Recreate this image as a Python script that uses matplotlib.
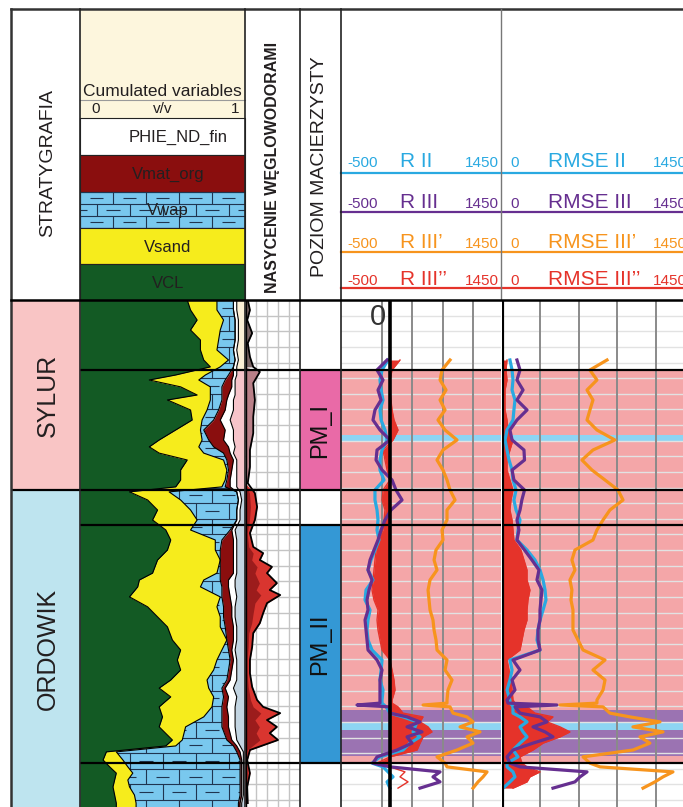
import numpy as np
import matplotlib
matplotlib.use("Agg")
import matplotlib.pyplot as plt
from matplotlib.patches import Rectangle, Polygon
from matplotlib.collections import LineCollection

plt.rcParams['font.family'] = ['Liberation Sans', 'DejaVu Sans']

# ---------------------------------------------------------------- data
ZONE_NAMES = ["SYLUR", "ORDOWIK"]
ZONE_TOP = [2950.0, 3010.8]
ZONE_BASE = [3010.8, 3112.3]

SOURCE_NAMES = ["PM_I", "PM_II"]
SOURCE_TOP = [2972.4, 3022.0]
SOURCE_BASE = [3010.8, 3098.2]

MARKERS = [2972.4, 3010.8, 3022.0, 3098.2]

BAND_TOP = [2993.3, 3081.2, 3085.0, 3087.6]
BAND_BASE = [2995.4, 3085.0, 3087.6, 3096.0]
BAND_TYPE = ["water", "hc", "water", "hc"]

LITH_LABELS = ["PHIE_ND_fin", "Vmat_org", "Vwap", "Vsand", "VCL"]

LITH_DEPTH = [2950.0, 2953.2, 2956.4, 2959.6, 2962.8, 2966.0, 2969.2, 2971.4, 2974.0, 2975.6,
              2977.8, 2980.4, 2982.0, 2985.2, 2988.4, 2991.6, 2994.8, 2997.0, 2999.0, 3001.2,
              3004.4, 3007.6, 3009.8, 3011.4, 3014.0, 3017.2, 3020.4, 3023.6, 3026.8, 3030.0,
              3033.2, 3037.4, 3039.6, 3041.8, 3045.0, 3048.2, 3051.4, 3054.6, 3058.8, 3062.0,
              3065.2, 3068.4, 3071.6, 3074.2, 3077.0, 3080.2, 3083.4, 3086.6, 3090.8, 3092.7,
              3094.6, 3097.2, 3099.4, 3101.4, 3103.6, 3105.8, 3108.4, 3111.0, 3112.3]
VCL = [0.65, 0.67, 0.71, 0.67, 0.73, 0.73, 0.75, 0.79, 0.58, 0.42,
       0.61, 0.71, 0.53, 0.67, 0.68, 0.58, 0.48, 0.42, 0.48, 0.65,
       0.61, 0.61, 0.58, 0.30, 0.41, 0.47, 0.44, 0.52, 0.55, 0.53,
       0.47, 0.44, 0.36, 0.35, 0.30, 0.41, 0.47, 0.53, 0.56, 0.61,
       0.59, 0.61, 0.55, 0.48, 0.55, 0.48, 0.50, 0.48, 0.56, 0.52,
       0.16, 0.14, 0.18, 0.22, 0.21, 0.20, 0.21, 0.22, 0.22]
VSAND = [0.18, 0.16, 0.16, 0.18, 0.11, 0.10, 0.15, 0.06, 0.18, 0.30,
         0.18, 0.08, 0.26, 0.10, 0.06, 0.15, 0.26, 0.30, 0.27, 0.22,
         0.28, 0.27, 0.28, 0.24, 0.20, 0.20, 0.27, 0.15, 0.27, 0.29,
         0.38, 0.39, 0.39, 0.38, 0.55, 0.42, 0.38, 0.32, 0.33, 0.25,
         0.24, 0.20, 0.22, 0.30, 0.26, 0.32, 0.25, 0.16, 0.06, 0.06,
         0.06, 0.12, 0.11, 0.10, 0.08, 0.10, 0.12, 0.12, 0.12]
VWAP = [0.10, 0.10, 0.07, 0.09, 0.10, 0.10, 0.04, 0.08, 0.14, 0.16,
        0.07, 0.07, 0.07, 0.07, 0.07, 0.02, 0.04, 0.09, 0.12, 0.02,
        0.01, 0.01, 0.02, 0.41, 0.35, 0.28, 0.24, 0.24, 0.04, 0.03,
        0.00, 0.02, 0.10, 0.13, 0.01, 0.04, 0.02, 0.03, 0.00, 0.04,
        0.08, 0.09, 0.12, 0.08, 0.06, 0.06, 0.11, 0.22, 0.27, 0.35,
        0.73, 0.71, 0.68, 0.65, 0.68, 0.67, 0.64, 0.62, 0.62]
VMAT_ORG = [0.00, 0.00, 0.00, 0.00, 0.00, 0.00, 0.00, 0.00, 0.03, 0.04,
            0.06, 0.04, 0.03, 0.04, 0.04, 0.13, 0.09, 0.09, 0.04, 0.04,
            0.02, 0.02, 0.03, 0.00, 0.00, 0.00, 0.00, 0.01, 0.07, 0.08,
            0.08, 0.08, 0.05, 0.04, 0.05, 0.05, 0.05, 0.05, 0.04, 0.02,
            0.02, 0.02, 0.02, 0.02, 0.03, 0.03, 0.04, 0.04, 0.03, 0.02,
            0.02, 0.01, 0.01, 0.01, 0.01, 0.01, 0.01, 0.01, 0.01]
PHIE = [0.02, 0.02, 0.02, 0.02, 0.02, 0.02, 0.02, 0.02, 0.02, 0.02,
        0.02, 0.04, 0.04, 0.05, 0.06, 0.05, 0.06, 0.04, 0.02, 0.02,
        0.03, 0.04, 0.04, 0.02, 0.02, 0.02, 0.02, 0.02, 0.02, 0.02,
        0.02, 0.02, 0.04, 0.04, 0.04, 0.02, 0.02, 0.02, 0.02, 0.02,
        0.02, 0.03, 0.04, 0.05, 0.05, 0.05, 0.04, 0.04, 0.03, 0.02,
        0.02, 0.01, 0.01, 0.01, 0.01, 0.01, 0.01, 0.01, 0.01]

SAT_DEPTH = [2950.0, 2953.2, 2956.4, 2960.6, 2963.8, 2968.2, 2971.4, 2973.0, 2976.6, 2982.0,
             2987.4, 2992.6, 2998.0, 3003.4, 3008.6, 3011.8, 3016.2, 3020.4, 3024.6, 3029.0,
             3031.0, 3033.2, 3035.4, 3037.4, 3040.6, 3042.8, 3044.4, 3047.0, 3050.2, 3053.4,
             3056.6, 3061.0, 3065.2, 3069.4, 3073.8, 3078.0, 3080.2, 3082.2, 3084.4, 3086.6,
             3088.6, 3090.8, 3094.0, 3097.2, 3101.4, 3105.8, 3111.0]
SAT = [0.05, 0.09, 0.04, 0.13, 0.05, 0.09, 0.15, 0.27, 0.15, 0.18,
       0.15, 0.15, 0.09, 0.09, 0.05, 0.18, 0.22, 0.18, 0.09, 0.15,
       0.33, 0.27, 0.49, 0.40, 0.58, 0.45, 0.64, 0.40, 0.33, 0.27,
       0.15, 0.13, 0.09, 0.09, 0.13, 0.22, 0.33, 0.64, 0.40, 0.58,
       0.45, 0.60, 0.09, 0.04, 0.09, 0.04, 0.05]

LOG_DEPTH = [2969.2, 2972.4, 2975.6, 2978.8, 2982.0, 2985.2, 2988.4, 2991.6, 2994.8, 2998.0,
             3001.2, 3004.4, 3007.6, 3010.8, 3014.0, 3017.2, 3020.4, 3023.6, 3026.8, 3030.0,
             3033.2, 3036.4, 3039.6, 3042.8, 3046.0, 3049.2, 3052.4, 3055.6, 3058.8, 3062.0,
             3065.2, 3068.4, 3071.6, 3074.8,
             3078.0, 3079.0, 3079.6, 3080.2, 3082.2, 3083.4, 3085.0, 3086.6, 3088.2, 3089.8,
             3091.8, 3094.0, 3096.2, 3098.2, 3099.4, 3101.0, 3102.6, 3104.2, 3106.2]
R_II = [73, 0, -25, -12, 12, -25, -12, 36, 61, 0,
        -25, -25, 24, -86, -86, -61, -49, -61, -37, -86,
        -134, -171, -110, -195, -207, -146, -171, -183, -171, -122,
        0, -12, -25, 12,
        0, 0, 24, 49, 97, 256, 427, 402, 378, 463,
        341, 256, -25, -122, 12, 73, 134, 61, 97]
R_III = [61, -61, 12, -49, -12, -86, -110, -25, 97, -61,
         -73, 0, 122, 170, 244, 109, 36, -12, -49, -98,
         -146, -171, -122, -159, -183, -171, -207, -195, -183, -171,
         -61, 0, -25, -25,
         -25, -25, -305, 97, 97, 305, 463, 305, 487, 305,
         366, 183, -61, -110, 97, 707, 621, 707, 463]
R_III_P = [829, 731, 707, 780, 707, 768, 682, 768, 914, 743,
           670, 743, 792, 829, 890, 792, 792, 731, 743, 658,
           634, 670, 585, 561, 573, 585, 621, 634, 658, 670,
           792, 768, 853, 804,
           792, 792, 500, 829, 865, 1036, 1109, 951, 1194, 1036,
           1109, 914, 670, 768, 792, 1280, 1231, 1170, 1109]
R_III_PP = [219, 122, 97, 97, 109, 122, 146, 195, 134, 12,
            36, 61, 97, 12, 0, 36, 24, 12, -49, -73,
            -86, -98, -110, -122, -98, -49, -61, -49, -25, 0,
            97, 122, 146, 158,
            122, 122, 158, 195, 256, 500, 463, 561, 609, 500,
            463, 427, 97, -61, 97, 280, 219, 317, 195]
RMSE_II = [60, 76, 83, 76, 98, 90, 83, 38, 23, 38,
           53, 76, 83, 106, 90, 106, 136, 121, 113, 189,
           249, 287, 310, 325, 332, 310, 287, 272, 264, 287,
           60, 76, 60, 38,
           60, 60, 76, 83, 83, 136, 189, 136, 159, 189,
           136, 83, 121, 38, 38, 83, 98, 60, 8]
RMSE_III = [113, 136, 113, 159, 113, 189, 113, 60, 76, 166,
            170, 76, 90, 170, 150, 136, 113, 128, 113, 170,
            226, 279, 264, 302, 294, 287, 287, 272, 272, 287,
            83, 136, 76, 98,
            38, 45, 415, 98, 136, 287, 340, 234, 325, 385,
            234, 83, 38, 60, 136, 642, 589, 551, 385]
RMSE_III_P = [793, 664, 717, 642, 687, 664, 642, 717, 853, 687,
              604, 679, 778, 876, 914, 815, 763, 717, 687, 551,
              528, 551, 513, 528, 521, 536, 536, 536, 574, 612,
              778, 687, 778, 763,
              717, 717, 438, 763, 815, 966, 1193, 989, 1216, 1042,
              1117, 989, 612, 664, 740, 1291, 1216, 1155, 1065]
RMSE_III_PP = [38, 30, 38, 23, 23, 23, 38, 45, 83, 60,
               38, 38, 60, 83, 68, 60, 76, 83, 90, 143,
               166, 189, 189, 211, 196, 189, 189, 166, 151, 136,
               38, 53, 68, 76,
               83, 98, 136, 189, 249, 385, 340, 438, 513, 438,
               310, 234, 136, 151, 189, 287, 211, 189, 83]

R_LABELS = ["R II", "R III", "R III\u2019", "R III\u2019\u2019"]
RMSE_LABELS = ["RMSE II", "RMSE III", "RMSE III\u2019", "RMSE III\u2019\u2019"]
R_RANGE = (-500, 1450)
RMSE_RANGE = (0, 1450)
R_REF = 100

# ---------------------------------------------------------------- style
GREEN = '#135a24'
YELLOW = '#f6ec1c'
WAPBLUE = '#79c8ee'
DARKRED = '#8a0e0e'
CREAM = '#fdf6dd'
SYL = '#f9c5c5'
ORD = '#bee4ef'
PM_COL = ['#e96aa7', '#3498d5']
TRACK_PINK = '#f4a6a8'
BAND_COL = {"water": '#8dd4f3', "hc": '#9b73b2'}
C_BLUE, C_PURPLE, C_ORANGE, C_RED = '#29a9e1', '#662f90', '#f7941d', '#e5332a'
CURVE_COLS = [C_BLUE, C_PURPLE, C_ORANGE, C_RED]
TXT = '#231f20'

W, H = 683, 807
HDR = 300
D_TOP = 2950.0
D_BOT = D_TOP + 0.32 * (H - HDR)

fig = plt.figure(figsize=(W / 100, H / 100), dpi=100)
fig.patch.set_facecolor('white')


def body_ax(x0, x1, xlim):
    ax = fig.add_axes([x0 / W, 0, (x1 - x0) / W, (H - HDR) / H])
    ax.set_xlim(*xlim)
    ax.set_ylim(D_BOT, D_TOP)
    ax.axis('off')
    return ax


def brick_segments(x0, x1, y0, y1, bw, bh):
    segs = []
    n = int(np.ceil((y1 - y0) / bh)) + 1
    for i in range(n):
        y = y0 + i * bh
        segs.append([(x0, y), (x1, y)])
        off = bw / 2 if i % 2 else 0
        x = x0 - bw + off
        while x < x1 + bw:
            segs.append([(x, y), (x, y + bh)])
            cx = x + bw / 2
            segs.append([(cx - bw * 0.2, y + bh / 2), (cx + bw * 0.2, y + bh / 2)])
            x += bw
    return segs


ax1 = body_ax(11, 80, (0, 1))
ax2 = body_ax(80, 245, (0, 1))
ax3 = body_ax(245, 300, (0, 1))
ax4 = body_ax(300, 341, (0, 1))
ax5 = body_ax(341, 501, R_RANGE)
ax6 = body_ax(502, 694, RMSE_RANGE)

# ---- column 1 : stratigraphy
for name, t, b, c in zip(ZONE_NAMES, ZONE_TOP, ZONE_BASE, [SYL, ORD]):
    ax1.axhspan(t, b, color=c, lw=0)
    ax1.text(0.54, (t + b) / 2, name, rotation=90, ha='center', va='center',
             fontsize=18, color=TXT)
ax1.axhline(ZONE_TOP[1], color='k', lw=1.6)

# ---- column 2 : cumulated volumes
d = np.array(LITH_DEPTH)
c1 = np.array(VCL)
c2 = c1 + np.array(VSAND)
c3 = c2 + np.array(VWAP)
c4 = c3 + np.array(VMAT_ORG)
c5 = c4 + np.array(PHIE)
ax2.axhspan(D_TOP, MARKERS[0], color='#fbf0d6', lw=0, zorder=0)
ax2.axhspan(MARKERS[0], MARKERS[1], color='#f6c4ca', lw=0, zorder=0)
ax2.axhspan(MARKERS[1], D_BOT, color='#c3d5e2', lw=0, zorder=0)
ax2.fill_betweenx(d, 0, c1, color=GREEN, lw=0, zorder=1)
ax2.fill_betweenx(d, c1, c2, color=YELLOW, lw=0, zorder=1)
wap_poly = Polygon(list(zip(c2, d)) + list(zip(c3[::-1], d[::-1])), closed=True,
                   facecolor=WAPBLUE, edgecolor='none', zorder=1)
ax2.add_patch(wap_poly)
lc = LineCollection(brick_segments(0, 1, D_TOP, D_BOT, 0.2, 5.0),
                    colors='#1f3550', linewidths=0.8, zorder=1.5)
ax2.add_collection(lc)
lc.set_clip_path(wap_poly)
ax2.fill_betweenx(d, c3, c4, color=DARKRED, lw=0, zorder=2)
ax2.fill_betweenx(d, c4, c5, color='white', lw=0, zorder=2)
for c in (c1, c2, c3, c4, c5):
    ax2.plot(c, d, color='k', lw=0.8, zorder=3)

# ---- column 3 : saturation
for xg in (0.2, 0.4, 0.6, 0.8):
    ax3.axvline(xg, color='#c4c4c4', lw=1.0, zorder=0)
for dg in np.arange(2950, 3115, 5):
    ax3.axhline(dg, color='#c4c4c4', lw=1.0, zorder=0)
sd = np.array(SAT_DEPTH)
sv = np.array(SAT)
ax3.fill_betweenx(sd, 0, sv, where=sd <= MARKERS[0], color='#7b6565', lw=0, interpolate=True, zorder=1)
ax3.fill_betweenx(sd, 0, sv, where=(sd >= MARKERS[0]) & (sd <= MARKERS[1]), color='#b98088',
                  lw=0, interpolate=True, zorder=1)
ax3.fill_betweenx(sd, 0, sv, where=sd >= MARKERS[1], color='#d9352f', lw=0, interpolate=True, zorder=1)
ax3.fill_betweenx(sd, 0, sv * 0.45, where=sd >= MARKERS[1], color='#9c1c1c', lw=0,
                  interpolate=True, zorder=1)
ax3.plot(sv, sd, color='k', lw=1.3, zorder=2)
ax3.axvline(0.01, color='k', lw=1.0, zorder=2)

# ---- column 4 : source rock levels
for name, t, b, c in zip(SOURCE_NAMES, SOURCE_TOP, SOURCE_BASE, PM_COL):
    ax4.axhspan(t, b, color=c, lw=0)
    ax4.text(0.5, (t + b) / 2, name, rotation=90, ha='center', va='center',
             fontsize=17, color='#111111')

# ---- columns 5 & 6 : curves
for ax, grid_x in ((ax5, [0, 370, 740, 1110]), (ax6, [290, 580, 870, 1160])):
    ax.axhspan(MARKERS[0], MARKERS[3], color=TRACK_PINK, lw=0, zorder=0)
    for t, b, k in zip(BAND_TOP, BAND_BASE, BAND_TYPE):
        ax.axhspan(t, b, color=BAND_COL[k], lw=0, zorder=0.5)
    for dg in np.arange(2950, 3115, 5):
        ax.axhline(dg, color='#e2e2e2', lw=1.0, zorder=1)
    for xg in grid_x:
        ax.axvline(xg, color='#8a8a8a', lw=1.4, zorder=1.2)

ld = np.array(LOG_DEPTH)
ax5.fill_betweenx(ld, R_REF, R_III_PP, where=ld <= MARKERS[3], interpolate=True,
                  color=C_RED, lw=0, zorder=2)
ax5.plot(R_III_PP, ld, color=C_RED, lw=1.0, zorder=2.1)
ax5.plot(R_II, ld, color=C_BLUE, lw=2.3, zorder=3)
ax5.plot(R_III, ld, color=C_PURPLE, lw=2.3, zorder=3.1)
ax5.plot(R_III_P, ld, color=C_ORANGE, lw=2.3, zorder=3.2)
ax5.axvline(R_REF, color='k', lw=2.6, zorder=4)
ax5.text(-50, 2955.5, "0", fontsize=21, color='#333333', ha='center', va='center', zorder=5)

ax6.fill_betweenx(ld, 0, RMSE_III_PP, color=C_RED, lw=0, zorder=2)
ax6.plot(RMSE_III_PP, ld, color=C_RED, lw=1.0, zorder=2.1)
ax6.plot(RMSE_II, ld, color=C_BLUE, lw=2.3, zorder=3)
ax6.plot(RMSE_III, ld, color=C_PURPLE, lw=2.3, zorder=3.1)
ax6.plot(RMSE_III_P, ld, color=C_ORANGE, lw=2.3, zorder=3.2)
ax6.axvline(0, color='k', lw=3.0, zorder=4)

for ax in (ax2, ax3, ax4, ax5, ax6):
    for m in MARKERS:
        ax.axhline(m, color='k', lw=1.6, zorder=6)

# ---------------------------------------------------------------- header overlay
ov = fig.add_axes([0, 0, 1, 1])
ov.set_xlim(0, W)
ov.set_ylim(H, 0)
ov.axis('off')
ov.set_zorder(10)

ov.add_patch(Rectangle((80, 9), 165, 109, facecolor=CREAM, edgecolor='none'))
ov.plot([80, 245], [100, 100], color='#9a9a9a', lw=0.8)
ov.text(162, 91, "Cumulated variables", fontsize=12.5, ha='center', va='center', color=TXT)
ov.text(96, 109, "0", fontsize=11, ha='center', va='center', color=TXT)
ov.text(163, 109, "v/v", fontsize=11, ha='center', va='center', color=TXT)
ov.text(235, 109, "1", fontsize=11, ha='center', va='center', color=TXT)

box_cols = ['white', DARKRED, WAPBLUE, YELLOW, GREEN]
box_y = [118, 155, 192, 228, 264, 300]
for i, (lab, col) in enumerate(zip(LITH_LABELS, box_cols)):
    r = Rectangle((80, box_y[i]), 165, box_y[i + 1] - box_y[i], facecolor=col,
                  edgecolor='#222222', lw=0.8)
    ov.add_patch(r)
    if lab == "Vwap":
        blc = LineCollection(brick_segments(80, 245, 192, 228, 33, 12),
                             colors='#1f3550', linewidths=0.8)
        ov.add_collection(blc)
        blc.set_clip_path(r)
    xc = 178 if i == 0 else 168
    ov.text(xc, (box_y[i] + box_y[i + 1]) / 2 + 1, lab, fontsize=12, ha='center',
            va='center', color=TXT)

ov.text(48, 163, "STRATYGRAFIA", rotation=90, fontsize=14, ha='center', va='center', color=TXT)
ov.text(273, 167, "NASYCENIE W\u0118GLOWODORAMI", rotation=90, fontsize=11.5, fontweight='bold',
        ha='center', va='center', color=TXT)
ov.text(320, 167, "POZIOM MACIERZYSTY", rotation=90, fontsize=14, ha='center', va='center', color=TXT)

row_base = [167, 208, 248, 285]
row_line = [173, 212, 252, 288]
for i in range(4):
    col = CURVE_COLS[i]
    ov.plot([341, 683], [row_line[i], row_line[i]], color=col, lw=1.6)
    yb = row_base[i]
    ov.text(347, yb, "%d" % R_RANGE[0], fontsize=11, color=col, ha='left', va='baseline')
    ov.text(400, yb, R_LABELS[i], fontsize=15, color=col, ha='left', va='baseline')
    ov.text(499, yb, "%d" % R_RANGE[1], fontsize=11, color=col, ha='right', va='baseline')
    ov.text(510, yb, "%d" % RMSE_RANGE[0], fontsize=11, color=col, ha='left', va='baseline')
    ov.text(548, yb, RMSE_LABELS[i], fontsize=15, color=col, ha='left', va='baseline')
    ov.text(653, yb, "%d" % RMSE_RANGE[1], fontsize=11, color=col, ha='left', va='baseline')

# frame and separators
ov.plot([11, 683], [9, 9], color='#333333', lw=1.8)
ov.plot([11, 11], [9, 807], color='#333333', lw=1.8)
for x in (80, 245, 300, 341):
    ov.plot([x, x], [9, 807], color='#222222', lw=1.2)
ov.plot([501, 501], [9, 300], color='#777777', lw=1.0)
ov.plot([11, 683], [300, 300], color='k', lw=1.8)

fig.savefig("out.png", dpi=100, facecolor='white')
